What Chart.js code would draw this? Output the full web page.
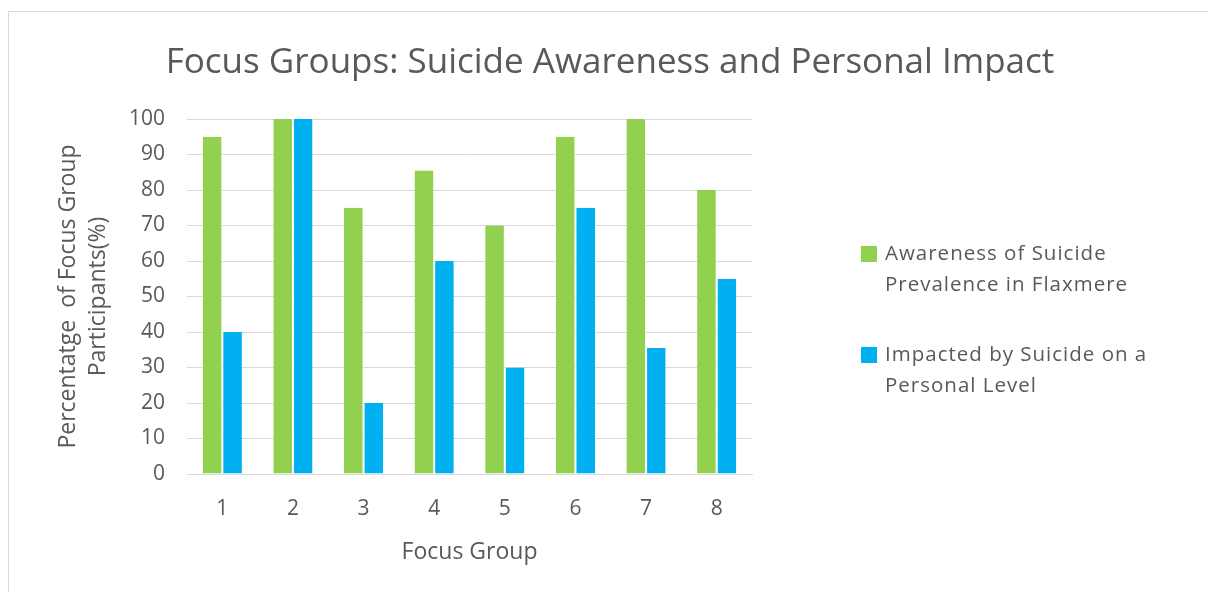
<!DOCTYPE html>
<html>
<head>
<meta charset="utf-8">
<script src="https://cdn.jsdelivr.net/npm/chart.js@4.4.1/dist/chart.umd.min.js"></script>
<style>
  html, body { margin: 0; padding: 0; background: #ffffff; }
  body { width: 1208px; height: 592px; position: relative; overflow: hidden; font-family: "Open Sans", sans-serif; }
  #frame { position: absolute; left: 8px; top: 11px; width: 1400px; height: 800px; border: 1px solid #d9d9d9; background: #ffffff; }
  #wrap { position: absolute; left: 0; top: 0; width: 1208px; height: 592px; }
  #legend { position: absolute; left: 861px; top: 237px; color: #595959; font-family: "Open Sans", sans-serif; font-size: 20.5px; letter-spacing: 1px; }
  .item { position: relative; padding-left: 24px; line-height: 31px; margin-bottom: 39px; white-space: nowrap; }
  .sw { position: absolute; left: 0; top: 9px; width: 16px; height: 16px; }
</style>
</head>
<body>
<div id="frame"></div>
<div id="wrap"><canvas id="c" width="1208" height="592"></canvas></div>
<div id="legend"></div>
<script>
const categories = ["1", "2", "3", "4", "5", "6", "7", "8"];
const awareness = [95, 100, 75, 85.5, 70, 95, 100, 80];
const impacted = [40, 100, 20, 60, 30, 75, 35.5, 55];
const seriesLines = [["Awareness of Suicide", "Prevalence in Flaxmere"], ["Impacted by Suicide on a", "Personal Level"]];
const seriesColors = ["#92D050", "#00B0F0"];
const yTicks = [0, 10, 20, 30, 40, 50, 60, 70, 80, 90, 100];
const chartTitle = "Focus Groups: Suicide Awareness and Personal Impact";
const xTitle = "Focus Group";
const yTitle = ["Percentatge  of Focus Group", "Participants(%)"];

const textColor = "#595959";
const fontFam = "'Open Sans', sans-serif";

const chart = new Chart(document.getElementById("c"), {
  type: "bar",
  data: {
    labels: categories,
    datasets: [
      { label: seriesLines[0].join(" "), data: awareness, backgroundColor: seriesColors[0], borderColor: "#ffffff", borderWidth: {left: 0, right: 1, top: 0, bottom: 0}, borderSkipped: false },
      { label: seriesLines[1].join(" "), data: impacted, backgroundColor: seriesColors[1], borderColor: "#ffffff", borderWidth: {left: 1, right: 0, top: 0, bottom: 0}, borderSkipped: false }
    ]
  },
  options: {
    responsive: false,
    animation: false,
    events: [],
    layout: { padding: { left: 40, right: 456, top: 0, bottom: 26 } },
    datasets: { bar: { categoryPercentage: 0.555, barPercentage: 1.0 } },
    plugins: {
      legend: { display: false },
      tooltip: { enabled: false },
      title: {
        display: true,
        text: chartTitle,
        color: textColor,
        font: { family: fontFam, size: 35, weight: "normal" },
        padding: { top: 42, bottom: 35 },
        align: "center",
        fullSize: true
      }
    },
    scales: {
      x: {
        afterFit: (s) => { s.height = 92; },
        grid: { display: false, drawTicks: false },
        border: { display: true, color: "#d9d9d9", width: 1 },
        ticks: { color: textColor, font: { family: fontFam, size: 21 }, padding: 22 },
        title: { display: true, text: xTitle, color: textColor, font: { family: fontFam, size: 23 }, padding: { top: 0, bottom: 0 } }
      },
      y: {
        min: 0, max: 100,
        afterFit: (s) => { s.width = 147; },
        afterBuildTicks: (s) => { s.ticks = yTicks.map(v => ({ value: v })); },
        grid: { color: "#d9d9d9", lineWidth: 1, drawTicks: false },
        border: { display: false },
        ticks: { color: textColor, font: { family: fontFam, size: 21 }, padding: 22 },
        title: { display: true, text: yTitle, color: textColor, font: { family: fontFam, size: 23, lineHeight: 1.3 }, padding: { top: 14, bottom: 0 } }
      }
    }
  },
  plugins: [{
    id: "titlePos",
    afterLayout(c) {
      const t = c.titleBlock;
      if (t) { t.left = 0; t.right = 1220; t.width = 1220; }
    }
  }]
});

const lg = document.getElementById("legend");
chart.data.datasets.forEach((ds, i) => {
  const d = document.createElement("div");
  d.className = "item";
  const sw = document.createElement("span");
  sw.className = "sw";
  sw.style.background = ds.backgroundColor;
  d.appendChild(sw);
  const tx = document.createElement("span");
  tx.innerHTML = seriesLines[i].join("<br>");
  d.appendChild(tx);
  lg.appendChild(d);
});
</script>
</body>
</html>
